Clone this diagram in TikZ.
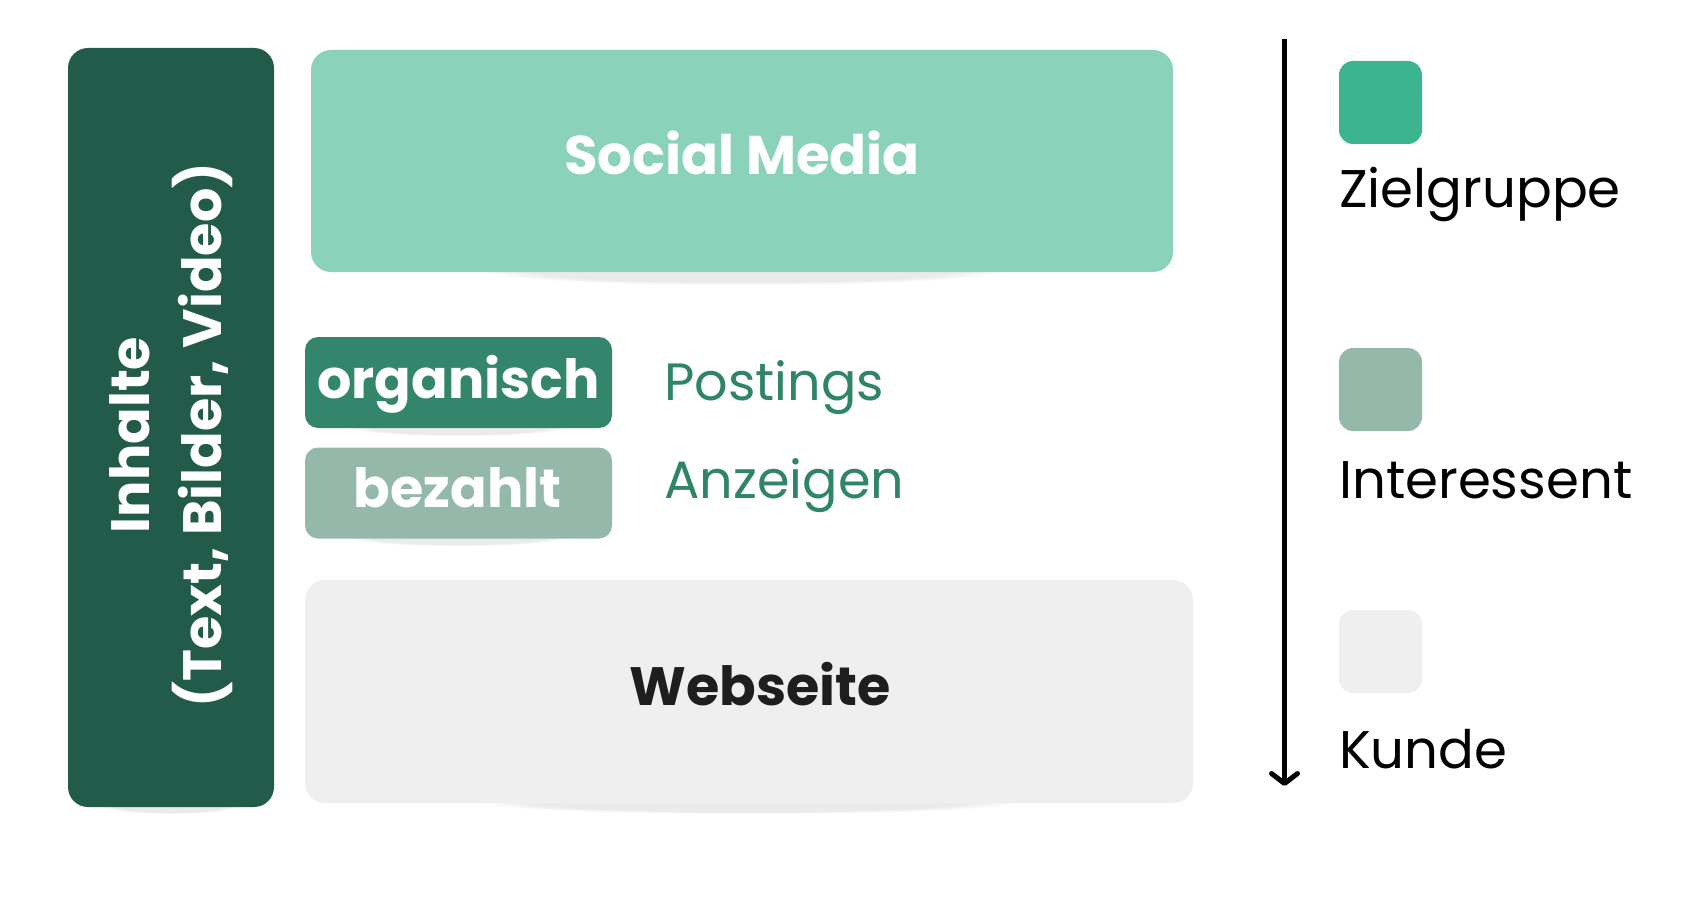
\documentclass[tikz,border=0pt]{standalone}
\usepackage{fontspec}
\setmainfont{Poppins}
\usetikzlibrary{arrows.meta,fadings}
\definecolor{barDark}{HTML}{225B4A}
\definecolor{socialC}{HTML}{8AD3BA}
\definecolor{orgC}{HTML}{33856C}
\definecolor{bezC}{HTML}{94B9AA}
\definecolor{webC}{HTML}{EFEFEF}
\definecolor{zielC}{HTML}{3CB58F}
\definecolor{postC}{HTML}{2F8469}
\definecolor{webTxt}{HTML}{1E1E1E}
\tikzset{
  box/.style={rectangle, rounded corners=20pt, inner sep=0pt, draw=none},
  tagbox/.style={rectangle, rounded corners=13pt, inner sep=0pt, draw=none, minimum width=307pt, minimum height=91pt},
  legsq/.style={rectangle, rounded corners=14pt, inner sep=0pt, draw=none, minimum width=83pt, minimum height=83pt},
  boldtxt/.style={inner sep=0pt, font=\bfseries\fontsize{#1}{#1}\selectfont},
  regtxt/.style={inner sep=0pt, font=\fontsize{#1}{#1}\selectfont},
  shad/.style={fill=black, opacity=0.08, path fading=circle with fuzzy edge 20 percent}
}
\begin{document}
\begin{tikzpicture}[x=1pt,y=-1pt]
\useasboundingbox (0,0) rectangle (1703,904);
% shadows
\fill[shad] (171,805) ellipse (70 and 9);
\fill[shad] (742,271) ellipse (260 and 14);
\fill[shad] (458,427) ellipse (110 and 9);
\fill[shad] (458,537) ellipse (110 and 9);
\fill[shad] (749,802) ellipse (270 and 12);
% left bar
\node[box, fill=barDark, minimum width=206pt, minimum height=759pt] (bar) at (171,427.5) {};
\node[text=white, rotate=90, align=center, inner sep=0pt, font=\bfseries\fontsize{54}{72}\selectfont] (inhalte) at (171,435) {Inhalte\\(Text, Bilder, Video)};
% social media
\node[box, fill=socialC, minimum width=862pt, minimum height=222pt] (social) at (742,161) {};
\node[boldtxt=54.5, text=white, anchor=base] (socialtxt) at (742,175) {Social Media};
% organisch / bezahlt
\node[tagbox, fill=orgC] (org) at (458.5,382.5) {};
\node[boldtxt=54, text=white, anchor=base] (orgtxt) at (458.5,398) {organisch};
\node[tagbox, fill=bezC] (bez) at (458.5,493) {};
\node[boldtxt=54, text=white, anchor=base] (beztxt) at (457.5,507) {bezahlt};
\node[regtxt=52.5, text=postC, anchor=base west] (postings) at (664,400) {Postings};
\node[regtxt=52.5, text=postC, anchor=base west] (anzeigen) at (664,498) {Anzeigen};
% webseite
\node[box, fill=webC, minimum width=888pt, minimum height=223pt] (web) at (749,691.5) {};
\node[boldtxt=54, text=webTxt, anchor=base] (webtxt) at (760,705) {Webseite};
% arrow
\coordinate (atop) at (1284.5,39);
\coordinate (abot) at (1284.5,786);
\draw[line width=5pt, -{Straight Barb[length=10pt,width=26pt,round]}] (atop) -- (abot);
% legend
\node[legsq, fill=zielC] (sq1) at (1380.5,102.5) {};
\node[regtxt=53, anchor=base west] (l1) at (1339,208) {Zielgruppe};
\node[legsq, fill=bezC] (sq2) at (1380.5,389.5) {};
\node[regtxt=53, anchor=base west] (l2) at (1339,498) {Interessent};
\node[legsq, fill=webC] (sq3) at (1380.5,651.5) {};
\node[regtxt=53, anchor=base west] (l3) at (1339,768) {Kunde};
\end{tikzpicture}
\end{document}
